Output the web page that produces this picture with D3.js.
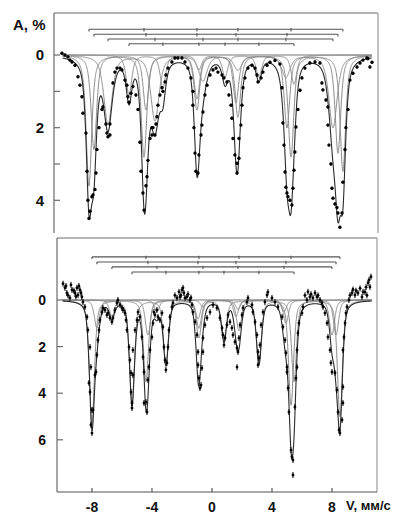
<!DOCTYPE html>
<html><head><meta charset="utf-8">
<script src="https://cdn.jsdelivr.net/npm/d3@7"></script>
<style>
body{margin:0;background:#fff}
svg{display:block}
text{font-family:Arial,"Liberation Sans",sans-serif;font-weight:bold;fill:#111}
</style>
</head><body>
<svg id="chart" width="403" height="514"></svg>
<script>
// Axis ticks
const velocityTicks = [-8, -4, 0, 4, 8];
const upperMajorTicks = [0, 2, 4];
const upperMinorTicks = [1, 3];
const lowerMajorTicks = [0, 2, 4, 6];

// Upper spectrum: four sextets, line positions (mm/s) and depths (%)
const upperPos = [
  [-8.2, -4.53, -1.0, 1.73, 5.27, 8.73],
  [-7.87, -4.4, -1.0, 1.6, 5.0, 8.4],
  [-6.93, -3.8, -0.6, 1.73, 4.93, 8.07],
  [-5.53, -3.27, -0.87, 0.87, 3.13, 5.47]
];
const upperDepth = [
  [3.6, 2.8, 1.5, 1.7, 2.8, 3.2],
  [2.6, 1.5, 1.2, 1.3, 2.0, 2.7],
  [1.9, 1.8, 0.7, 0.4, 0.6, 2.0],
  [1.1, 0.9, 0.4, 0.6, 0.6, 0.8]
];
const upperHalfWidth = [0.22, 0.22, 0.33, 0.22];
const upperBarLevels = [-0.71, -0.57, -0.44, -0.31];

// Upper spectrum: measured points [velocity, absorption]
const upperPoints = [
  [-10.0,-0.05],[-9.8,0.0],[-9.6,0.05],[-9.47,0.14],[-9.33,0.19],[-9.13,0.28],[-8.93,0.6],[-8.8,0.83],
  [-8.67,1.15],[-8.6,1.6],[-8.4,2.15],[-8.33,3.2],[-8.27,4.0],[-8.2,4.5],[-8.13,4.3],[-8.0,3.9],
  [-7.93,3.85],[-7.8,3.7],[-7.73,3.25],[-7.67,2.6],[-7.53,2.0],[-7.33,1.5],[-7.27,1.43],[-7.07,1.9],
  [-7.0,2.15],[-6.93,2.25],[-6.8,2.2],[-6.8,1.9],[-6.6,0.77],[-6.47,0.47],[-6.33,0.36],[-6.13,0.36],
  [-6.0,0.41],[-5.8,0.69],[-5.67,0.83],[-5.6,1.15],[-5.53,1.3],[-5.4,1.05],[-5.27,0.87],[-5.07,1.1],
  [-4.93,1.5],[-4.8,2.4],[-4.73,3.2],[-4.6,3.8],[-4.53,4.27],[-4.4,3.6],[-4.33,3.35],[-4.27,2.9],
  [-4.13,2.3],[-4.0,2.0],[-4.0,2.2],[-3.93,2.0],[-3.8,2.2],[-3.73,1.9],[-3.67,1.7],[-3.6,1.38],
  [-3.47,1.1],[-3.33,0.9],[-3.27,1.0],[-3.13,0.74],[-3.07,0.55],[-2.93,0.36],[-2.67,0.19],[-2.47,0.08],
  [-2.27,0.08],[-2.0,0.08],[-1.8,0.19],[-1.6,0.36],[-1.4,0.63],[-1.27,1.0],[-1.27,1.38],[-1.2,2.0],
  [-1.13,2.7],[-1.07,3.2],[-0.93,3.25],[-0.87,2.75],[-0.73,2.2],[-0.67,1.93],[-0.6,1.57],[-0.47,1.1],
  [-0.33,0.83],[-0.13,0.55],[0.07,0.41],[0.27,0.36],[0.4,0.47],[0.67,0.55],[0.8,0.63],[1.0,0.74],
  [1.13,1.1],[1.27,1.38],[1.33,1.74],[1.4,2.3],[1.53,2.75],[1.67,2.98],[1.67,3.25],[1.8,2.84],
  [1.8,2.3],[1.93,1.93],[2.0,1.38],[2.07,0.9],[2.2,0.63],[2.4,0.36],[2.67,0.28],[2.87,0.36],
  [3.0,0.55],[3.07,0.74],[3.27,0.63],[3.4,0.47],[3.67,0.28],[3.87,0.2],[4.2,0.15],[4.53,0.25],
  [4.67,0.9],[4.73,1.87],[4.8,2.48],[4.87,3.22],[4.93,3.64],[5.0,3.8],[5.07,3.9],[5.2,4.0],
  [5.33,4.13],[5.4,3.67],[5.47,3.17],[5.53,2.67],[5.6,1.98],[5.73,1.5],[5.87,0.97],[6.0,0.63],
  [6.2,0.36],[6.53,0.22],[6.87,0.19],[7.2,0.22],[7.33,0.77],[7.4,0.96],[7.6,1.24],[7.73,1.43],
  [7.73,1.93],[7.8,2.48],[7.93,3.0],[8.0,3.67],[8.07,3.94],[8.2,4.1],[8.33,4.2],[8.4,4.35],
  [8.53,4.74],[8.67,4.35],[8.73,3.5],[8.87,2.6],[8.93,2.0],[9.07,1.5],[9.2,0.69],[9.4,0.5],
  [9.67,0.33],[9.87,0.22],[10.07,0.14],[10.33,0.08],[10.4,0.1],[10.53,0.33],[10.67,0.2]
];

// Lower spectrum: four sextets
const lowerPos = [
  [-8.0, -4.4, -0.87, 1.8, 5.27, 8.53],
  [-7.67, -4.27, -0.93, 1.6, 4.93, 8.27],
  [-6.67, -3.67, -0.6, 1.73, 4.8, 8.0],
  [-5.33, -3.07, -0.87, 0.8, 3.13, 5.47]
];
const lowerDepth = [
  [5.3, 3.5, 1.2, 1.3, 4.5, 5.0],
  [1.2, 1.5, 0.8, 0.7, 1.0, 1.5],
  [0.7, 0.5, 0.3, 0.4, 0.5, 1.5],
  [4.4, 2.7, 1.6, 1.7, 2.7, 3.5]
];
const lowerHalfWidth = [0.2, 0.2, 0.2, 0.2];
const lowerBarLevels = [-1.85, -1.63, -1.42, -1.2];

// Lower spectrum: measured points [velocity, absorption]
const lowerPoints = [
  [-9.93,-0.7],[-9.8,-0.52],[-9.73,-0.6],[-9.67,-0.3],[-9.6,-0.2],[-9.47,-0.09],[-9.4,-0.65],[-9.33,-0.43],
  [-9.2,-0.4],[-9.13,-0.3],[-9.07,-0.15],[-9.0,-0.52],[-8.93,-0.21],[-8.87,-0.6],[-8.8,-0.43],[-8.73,-0.3],
  [-8.67,-0.13],[-8.6,0.09],[-8.47,0.3],[-8.33,0.73],[-8.27,1.29],[-8.13,2.02],[-8.07,2.88],[-8.2,3.56],
  [-8.13,3.95],[-8.0,4.72],[-8.07,5.36],[-8.0,5.71],[-7.93,4.72],[-7.8,3.22],[-7.73,3.09],[-7.67,2.36],
  [-7.6,1.72],[-7.53,1.29],[-7.47,0.86],[-7.33,0.52],[-7.27,0.34],[-7.13,0.43],[-7.0,0.64],[-6.93,0.56],
  [-6.8,0.77],[-6.67,0.94],[-6.6,0.77],[-6.47,0.43],[-6.33,0.13],[-6.27,0.0],[-6.13,0.21],[-6.0,0.34],
  [-5.93,0.43],[-5.8,0.56],[-5.73,0.86],[-5.67,1.29],[-5.53,2.02],[-5.47,2.58],[-5.4,3.13],[-5.4,3.95],
  [-5.33,4.42],[-5.33,4.64],[-5.27,3.22],[-5.27,2.15],[-5.13,1.29],[-5.0,0.86],[-4.93,0.52],[-4.8,0.73],
  [-4.67,1.59],[-4.6,2.45],[-4.53,3.09],[-4.53,4.42],[-4.4,4.38],[-4.33,4.81],[-4.27,3.43],[-4.2,2.88],
  [-4.13,2.15],[-4.0,1.59],[-3.93,0.99],[-3.87,0.52],[-3.8,0.64],[-3.67,0.43],[-3.6,0.73],[-3.47,0.86],
  [-3.33,0.56],[-3.27,1.16],[-3.2,2.02],[-3.13,2.58],[-3.07,3.0],[-3.0,2.7],[-2.93,2.02],[-2.87,1.29],
  [-2.8,0.73],[-2.67,0.3],[-2.6,0.13],[-2.47,-0.2],[-2.33,-0.09],[-2.2,-0.35],[-2.13,-0.13],[-2.07,-0.2],
  [-2.0,-0.43],[-1.93,-0.52],[-1.87,-0.3],[-1.8,-0.09],[-1.67,-0.13],[-1.6,-0.25],[-1.47,0.0],[-1.4,-0.1],
  [-1.33,0.21],[-1.27,0.52],[-1.13,0.94],[-1.0,1.5],[-0.93,2.23],[-0.93,2.79],
  [-0.87,3.35],[-0.8,3.78],[-0.73,3.65],[-0.67,2.92],[-0.6,2.23],[-0.6,1.63],[-0.47,1.07],[-0.33,0.77],
  [-0.13,0.52],[0.07,0.21],[0.33,0.34],[0.53,0.77],[0.67,1.2],[0.73,1.5],[0.8,1.93],[0.87,1.63],
  [1.0,1.07],[1.07,0.64],[1.2,0.94],[1.33,1.2],[1.4,1.5],[1.53,1.8],[1.67,2.06],[1.67,2.88],
  [1.73,2.23],[1.8,1.63],[1.87,1.07],[2.0,0.64],[2.07,0.34],[2.33,0.09],[2.4,-0.09],[2.67,0.21],
  [2.73,0.52],[2.87,0.94],[3.0,1.5],[3.07,2.23],[3.07,2.79],[3.13,2.49],[3.2,1.93],[3.27,1.07],
  [3.4,0.52],[3.53,0.09],[3.67,-0.21],[3.73,-0.34],[4.0,-0.09],[4.2,0.09],[4.4,0.3],[4.67,0.73],
  [4.73,1.16],[4.87,1.72],[4.93,2.27],[5.0,2.88],[5.0,3.09],[5.07,3.78],[5.13,4.81],[5.27,6.44],
  [5.33,6.74],[5.4,6.87],[5.4,7.51],[5.53,4.59],[5.6,3.35],[5.67,2.88],[5.67,2.15],[5.73,1.42],
  [5.8,0.99],[6.0,0.56],[6.07,0.3],[6.2,-0.2],[6.33,0.0],[6.4,-0.35],[6.53,-0.13],[6.6,-0.25],
  [6.73,-0.09],[6.87,-0.3],[7.0,-0.13],[7.07,-0.2],[7.2,0.0],
  [7.33,0.13],[7.4,0.3],[7.53,0.56],[7.67,0.99],[7.73,1.59],[7.87,2.15],[7.93,2.7],[8.0,3.09],
  [8.2,3.13],[8.33,3.86],[8.4,4.81],[8.47,5.58],[8.53,5.71],[8.67,5.15],[8.73,4.42],[8.73,3.73],
  [8.73,2.15],[8.8,1.59],[8.87,0.99],[8.93,0.56],[9.0,0.3],[9.13,0.0],[9.2,-0.2],[9.33,-0.3],
  [9.4,-0.45],[9.53,-0.21],[9.6,-0.4],[9.73,-0.3],[9.87,-0.5],[10.0,-0.13],[10.07,-0.35],[10.2,-0.34],
  [10.27,-0.55],[10.33,-0.2],[10.4,-0.73],[10.47,-0.86],[10.53,-0.56],[10.6,-1.0]
];

const svg = d3.select("#chart");
const curveRange = [-9.95, 10.65];

// pseudo-Voigt line shape summed over the six lines of a sextet
function sextetCurve(pos, depth, hw, eta) {
  return v => d3.sum(pos, (p, i) => {
    const u = (v - p) / hw;
    return depth[i] * (eta / (1 + u * u) + (1 - eta) * Math.exp(-Math.LN2 * u * u));
  });
}

function drawPanel(cfg) {
  const x = d3.scaleLinear().domain(cfg.xDomain).range(cfg.xRange);
  const y = d3.scaleLinear().domain(cfg.yDomain).range(cfg.yRange);
  const g = svg.append("g");
  const [x0, x1] = cfg.xRange, [y0, y1] = cfg.yRange;

  // frame
  const frame = g.append("g").attr("stroke", "#6a6a6a").attr("stroke-width", 1.2).attr("fill", "none");
  frame.append("line").attr("x1", x0).attr("x2", x0).attr("y1", y0).attr("y2", y1);
  frame.append("line").attr("x1", x0).attr("x2", x1).attr("y1", y0).attr("y2", y0);
  frame.append("line").attr("x1", x1).attr("x2", x1).attr("y1", y0).attr("y2", y1).attr("stroke", "#9a9a9a");
  if (cfg.bottomAxis) {
    frame.append("line").attr("x1", x0).attr("x2", x1).attr("y1", y1).attr("y2", y1).attr("stroke", "#555");
  }

  // y ticks (inward) and labels
  const yt = g.append("g");
  cfg.yMajor.concat(cfg.yMinor || []).forEach(t => {
    yt.append("line").attr("x1", x0).attr("x2", x0 + 6).attr("y1", y(t)).attr("y2", y(t))
      .attr("stroke", "#6a6a6a").attr("stroke-width", 1.2);
  });
  cfg.yMajor.forEach(t => {
    yt.append("text").attr("x", cfg.labelX).attr("y", y(t)).attr("dy", "0.36em")
      .attr("text-anchor", "end").attr("font-size", cfg.fontSize).text(t);
  });

  // x ticks and labels
  if (cfg.bottomAxis) {
    velocityTicks.forEach(t => {
      g.append("line").attr("x1", x(t)).attr("x2", x(t)).attr("y1", y1).attr("y2", y1 - 4)
        .attr("stroke", "#555").attr("stroke-width", 1.2);
      g.append("text").attr("x", x(t)).attr("y", y1 + 20).attr("text-anchor", "middle")
        .attr("font-size", 14).text(t < 0 ? "-" + Math.abs(t) : t);
    });
  }

  // sextet stick bars
  const bars = g.append("g").attr("stroke", "#555").attr("stroke-width", 1.1);
  cfg.pos.forEach((p, k) => {
    const by = y(cfg.barLevels[k]);
    bars.append("line").attr("x1", x(p[0])).attr("x2", x(p[5])).attr("y1", by).attr("y2", by);
    p.forEach((v, i) => {
      const end = i === 0 || i === 5;
      bars.append("line").attr("x1", x(v)).attr("x2", x(v))
        .attr("y1", end ? by : by - 1.2).attr("y2", by + 2.2);
    });
  });

  // baseline
  g.append("line").attr("x1", x(curveRange[0])).attr("x2", x(curveRange[1]))
    .attr("y1", y(0)).attr("y2", y(0)).attr("stroke", "#777").attr("stroke-width", 1.2);

  // fitted components and envelope
  const vs = d3.range(curveRange[0], curveRange[1] + 1e-9, 0.01);
  const comps = cfg.pos.map((p, k) => sextetCurve(p, cfg.depth[k], cfg.hw[k], cfg.eta));
  const line = d3.line().x(d => x(d[0])).y(d => y(d[1]));
  comps.forEach(f => {
    g.append("path").attr("d", line(vs.map(v => [v, f(v)])))
      .attr("fill", "none").attr("stroke", "#8a8a8a").attr("stroke-width", 1);
  });
  g.append("path").attr("d", line(vs.map(v => [v, d3.sum(comps, f => f(v))])))
    .attr("fill", "none").attr("stroke", "#2a2a2a").attr("stroke-width", 1.1);

  // measured points
  const pts = g.append("g");
  cfg.points.forEach(d => {
    const px = x(d[0]), py = y(d[1]);
    pts.append("line").attr("x1", px).attr("x2", px).attr("y1", py - cfg.err).attr("y2", py + cfg.err)
      .attr("stroke", "#000").attr("stroke-width", 1);
    pts.append("circle").attr("cx", px).attr("cy", py).attr("r", cfg.r).attr("fill", "#000");
  });
}

drawPanel({
  xDomain: [-10.53, 11.07], xRange: [54, 378],
  yDomain: [-1.157, 4.9], yRange: [13, 233],
  yMajor: upperMajorTicks, yMinor: upperMinorTicks, labelX: 44, fontSize: 15,
  pos: upperPos, depth: upperDepth, hw: upperHalfWidth, eta: 0.65, barLevels: upperBarLevels,
  points: upperPoints, r: 1.7, err: 1.5, bottomAxis: false
});

drawPanel({
  xDomain: [-10.33, 11.0], xRange: [57, 377],
  yDomain: [-2.66, 8.24], yRange: [238, 492],
  yMajor: lowerMajorTicks, labelX: 46, fontSize: 14,
  pos: lowerPos, depth: lowerDepth, hw: lowerHalfWidth, eta: 0.5, barLevels: lowerBarLevels,
  points: lowerPoints, r: 1.4, err: 3, bottomAxis: true
});

// axis titles
svg.append("text").attr("x", 13).attr("y", 30).attr("font-size", 15).text("A, %");
svg.append("text").attr("x", 346).attr("y", 510).attr("font-size", 13).text("V, мм/с");
</script>
</body></html>
